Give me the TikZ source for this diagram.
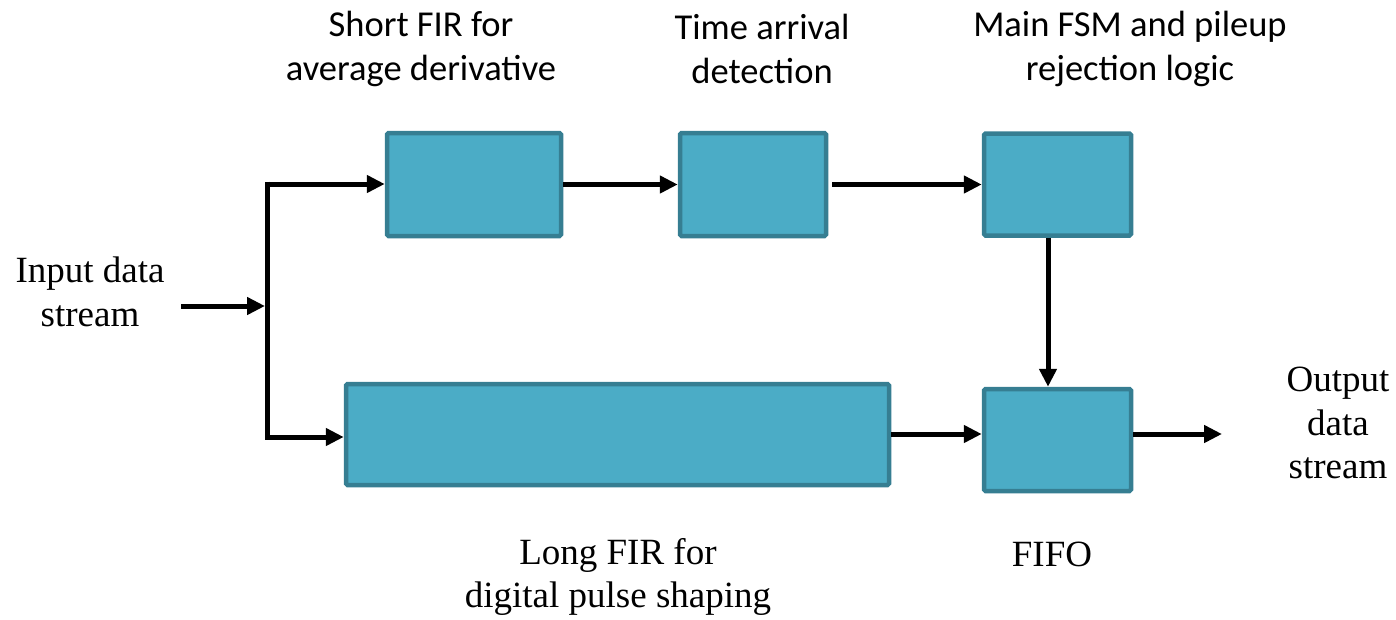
\documentclass[tikz,border=0pt]{standalone}
\usepackage{fontspec}
\setmainfont{Liberation Serif}
\newfontfamily\calibrifont{Carlito}
\usetikzlibrary{arrows.meta}
\definecolor{blockfill}{HTML}{4BACC6}
\definecolor{blockedge}{HTML}{367E92}
\tikzset{
  block/.style={draw=blockedge, fill=blockfill, line width=4.5pt, rounded corners=1.5pt, inner sep=0pt},
  flow/.style={line width=5pt, -{Triangle[length=18pt,width=17pt]}},
  wire/.style={line width=5pt},
  toplabel/.style={font=\calibrifont\fontsize{36.5}{44}\selectfont, align=center},
  seriflabel/.style={font=\fontsize{37}{43.5}\selectfont, align=center},
}
\begin{document}
\begin{tikzpicture}[x=1pt,y=-1pt]
\useasboundingbox (0,0) rectangle (1396,619);
% processing blocks
\node[block, minimum width=174pt, minimum height=103pt] (fir) at (474,184.5) {};
\node[block, minimum width=146pt, minimum height=103pt] (tad) at (753,184.5) {};
\node[block, minimum width=147pt, minimum height=102pt] (fsm) at (1057.5,184.5) {};
\node[block, minimum width=543pt, minimum height=101pt] (lfir) at (617.5,434.5) {};
\node[block, minimum width=147pt, minimum height=102pt] (fifo) at (1057.5,440) {};
% labels
\node[toplabel] (lfirtxt) at (421,49) {Short FIR for\\average derivative};
\node[toplabel] (ltad) at (762,49) {Time arrival\\detection};
\node[toplabel] (lfsm) at (1130,49) {Main FSM and pileup\\rejection logic};
\node[seriflabel] (lin) at (90,292) {Input data\\stream};
\node[seriflabel] (lout) at (1338,423) {Output\\data\\stream};
\node[seriflabel] (llfir) at (618,577) {Long FIR for\\digital pulse shaping};
\node[seriflabel] (lfifo) at (1052,554) {FIFO};
% input splitting
\coordinate (src) at (181,306);
\coordinate (split) at (265,306);
\coordinate (up) at (267,184);
\coordinate (down) at (267,437);
\draw[flow] (src) -- (split);
\draw[wire] (267,181.5) -- (267,439.5);
\draw[flow] (up) -- (fir.west |- up);
\draw[flow] (down) -- (lfir.west |- down);
% pipeline connections
\draw[flow] (fir.east) -- (tad.west);
\draw[flow] ([xshift=4pt]tad.east) -- (fsm.west);
\draw[flow] (fsm.south -| 1048,0) -- (fifo.north -| 1048,0);
\draw[flow] (lfir.east |- 0,434) -- (fifo.west |- 0,434);
\coordinate (sink) at (1222,434);
\draw[flow] (fifo.east |- sink) -- (sink);
\end{tikzpicture}
\end{document}
